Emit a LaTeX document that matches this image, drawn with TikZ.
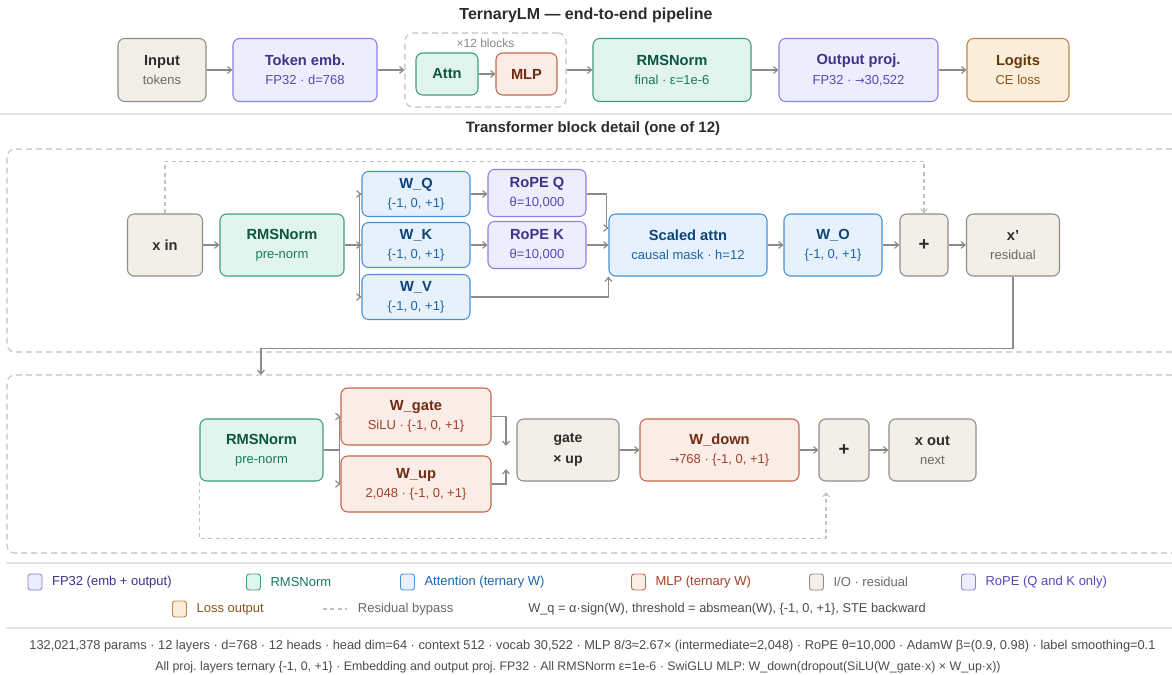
\documentclass[tikz,border=0pt]{standalone}
\usepackage{fontspec}
\setmainfont{Liberation Sans}
\newfontfamily\arrowfont{DejaVu Sans}
\usetikzlibrary{arrows.meta,positioning,calc}
\frenchspacing

\definecolor{ioF}{HTML}{F1EFE8}\definecolor{ioD}{HTML}{8F8D86}\definecolor{ioT}{HTML}{2C2C2A}\definecolor{ioS}{HTML}{6A6964}
\definecolor{fpF}{HTML}{EEEDFE}\definecolor{fpD}{HTML}{8A82E0}\definecolor{fpT}{HTML}{3C3489}\definecolor{fpS}{HTML}{5549B8}
\definecolor{nmF}{HTML}{E1F5EE}\definecolor{nmD}{HTML}{3F9D7E}\definecolor{nmT}{HTML}{0A5641}\definecolor{nmS}{HTML}{1A7A5E}
\definecolor{atF}{HTML}{E6F1FB}\definecolor{atD}{HTML}{4A90D9}\definecolor{atT}{HTML}{0C447C}\definecolor{atS}{HTML}{1E64AA}
\definecolor{mlF}{HTML}{FAECE7}\definecolor{mlD}{HTML}{C8664A}\definecolor{mlT}{HTML}{712B13}\definecolor{mlS}{HTML}{A3402A}
\definecolor{lsF}{HTML}{FAEEDA}\definecolor{lsD}{HTML}{BE8545}\definecolor{lsT}{HTML}{633806}\definecolor{lsS}{HTML}{8A5512}
\definecolor{wire}{HTML}{8C8B86}\definecolor{dashc}{HTML}{C2C1BB}\definecolor{rulec}{HTML}{E4E3DD}

\newcommand\subl[1]{{\fontsize{9.75}{14.5}\selectfont\mdseries\color{subc}#1}}
\newcommand\toarr{{\arrowfont\fontsize{8.5}{10}\selectfont →}}

\tikzset{
  box/.style={draw, rounded corners=5pt, line width=0.8pt, align=center, inner sep=0pt,
    font=\fontsize{11}{14.5}\selectfont\bfseries},
  sz/.style 2 args={minimum width=#1*0.75pt, minimum height=#2*0.75pt},
  iobox/.style={box, fill=ioF, draw=ioD, text=ioT, execute at begin node=\colorlet{subc}{ioS}},
  fpbox/.style={box, fill=fpF, draw=fpD, text=fpT, execute at begin node=\colorlet{subc}{fpS}},
  nmbox/.style={box, fill=nmF, draw=nmD, text=nmT, execute at begin node=\colorlet{subc}{nmS}},
  attbox/.style={box, fill=atF, draw=atD, text=atT, execute at begin node=\colorlet{subc}{atS}},
  mlpbox/.style={box, fill=mlF, draw=mlD, text=mlT, execute at begin node=\colorlet{subc}{mlS}},
  lossbox/.style={box, fill=lsF, draw=lsD, text=lsT, execute at begin node=\colorlet{subc}{lsS}},
  plussign/.style={font=\fontsize{14}{16}\selectfont\bfseries},
  arr/.style={-{Straight Barb[length=3pt,width=5pt]}, draw=wire, line width=0.9pt},
  res/.style={-{Straight Barb[length=3pt,width=5pt]}, draw=dashc, line width=0.8pt, dash pattern=on 3pt off 2.5pt},
  grp/.style={draw=dashc, line width=0.8pt, dash pattern=on 4.5pt off 3pt, rounded corners=6pt, inner sep=0pt},
  hdr/.style={font=\fontsize{12}{14}\selectfont\bfseries, text=ioT},
  swatch/.style={draw, rounded corners=2pt, line width=0.7pt, minimum width=10.5pt, minimum height=12pt, inner sep=0pt},
  lgtext/.style={font=\fontsize{9.75}{12}\selectfont, inner sep=0pt, anchor=west},
  foot/.style={font=\fontsize{9.6}{12}\selectfont, text=ioT!85}
}

\begin{document}
\begin{tikzpicture}[x=0.75pt, y=-0.75pt]
  \useasboundingbox (0,0) rectangle (1172,675);
  \fill[white] (0,0) rectangle (1172,675);

  % pipeline
  \node[hdr] (ttl) at (586,15) {TernaryLM — end-to-end pipeline};
  \node[iobox, sz={88}{63}] (inp) at (162,70) {Input\\\subl{tokens}};
  \node[fpbox, sz={144}{63}] (tok) at (305,70) {Token emb.\\\subl{FP32 · d=768}};
  \node[grp, sz={161}{74}] (blocks) at (485.5,70) {};
  \node[font=\fontsize{9}{10}\selectfont, text=ioS!80] (reps) at (485.5,43) {×12 blocks};
  \node[nmbox, sz={62}{42}] (attn) at (447,74) {Attn};
  \node[mlpbox, sz={61}{42}] (mlp) at (526.5,74) {MLP};
  \node[nmbox, sz={158}{63}] (rmsf) at (672,70) {RMSNorm\\\subl{final · ε=1e-6}};
  \node[fpbox, sz={159}{63}] (outp) at (858.5,70) {Output proj.\\\subl{FP32 · \toarr30,522}};
  \node[lossbox, sz={102}{63}] (logit) at (1018,70) {Logits\\\subl{CE loss}};

  \draw[arr] (inp) -- (tok);
  \draw[arr] (tok) -- (blocks);
  \draw[arr] (attn) -- (mlp);
  \draw[arr] (blocks) -- (rmsf);
  \draw[arr] (rmsf) -- (outp);
  \draw[arr] (outp) -- (logit);

  \draw[rulec, line width=0.8pt] (0,114) -- (1172,114);

  % attention half of the block
  \node[hdr, font=\fontsize{11.25}{14}\selectfont\bfseries] (ttl2) at (593,129) {Transformer block detail (one of 12)};
  \node[grp, sz={1173}{203}] (upper) at (593.5,250.5) {};
  \node[iobox, sz={75}{62}] (xin) at (165,245) {x in};
  \node[nmbox, sz={124}{62}] (rms1) at (282,245) {RMSNorm\\\subl{pre-norm}};
  \node[attbox, sz={108}{45}] (wq) at (416,194) {W\_Q\\\subl{\{-1, 0, +1\}}};
  \node[attbox, sz={108}{45}] (wk) at (416,245) {W\_K\\\subl{\{-1, 0, +1\}}};
  \node[attbox, sz={108}{45}] (wv) at (416,297) {W\_V\\\subl{\{-1, 0, +1\}}};
  \node[fpbox, sz={98}{47}] (ropeq) at (537,193) {RoPE Q\\\subl{θ=10,000}};
  \node[fpbox, sz={98}{47}] (ropek) at (537,245) {RoPE K\\\subl{θ=10,000}};
  \node[attbox, sz={158}{62}] (sattn) at (688,245) {Scaled attn\\\subl{causal mask · h=12}};
  \node[attbox, sz={98}{62}] (wo) at (833,245) {W\_O\\\subl{\{-1, 0, +1\}}};
  \node[iobox, plussign, sz={48}{62}] (add1) at (924,245) {+};
  \node[iobox, sz={93}{62}] (xres) at (1013,245) {x'\\\subl{residual}};

  \draw[arr] (xin) -- (rms1);
  \draw[arr] (rms1.east) -- ++(15,0) coordinate (fk1) |- (wq);
  \draw[arr] (fk1) -- (wk);
  \draw[arr] (fk1) |- (wv);
  \draw[arr] (wq) -- (ropeq.west |- wq);
  \draw[arr] (wk) -- (ropek);
  \draw[arr] (ropeq.east |- wq) -- ++(20,0) |- ($(sattn.west)+(0,-17)$);
  \draw[arr] (ropek) -- (sattn);
  \draw[arr] (wv) -| ($(sattn.south west)+(0,0)$);
  \draw[arr] (sattn) -- (wo);
  \draw[arr] (wo) -- (add1);
  \draw[arr] (add1) -- (xres);
  \draw[res] (xin.north) -- ++(0,-52) -| (add1.north);

  \coordinate (lowin) at (261,375);
  \draw[arr] (xres.south) -- ++(0,72) -| (lowin);

  % MLP half of the block
  \node[grp, sz={1173}{178}] (lower) at (593.5,464) {};
  \node[nmbox, sz={123}{62}] (rms2) at (261.5,450) {RMSNorm\\\subl{pre-norm}};
  \node[mlpbox, sz={150}{57}] (wgate) at (416,416.5) {W\_gate\\\subl{SiLU · \{-1, 0, +1\}}};
  \node[mlpbox, sz={150}{56}] (wup) at (416,484) {W\_up\\\subl{2,048 · \{-1, 0, +1\}}};
  \node[iobox, sz={102}{62}, font=\fontsize{10.5}{16}\selectfont\bfseries] (gxu) at (568,450) {gate\\× up};
  \node[mlpbox, sz={159}{62}] (wdown) at (719.5,450) {W\_down\\\subl{\toarr768 · \{-1, 0, +1\}}};
  \node[iobox, plussign, sz={50}{62}] (add2) at (844,450) {+};
  \node[iobox, sz={87}{62}] (xout) at (932.5,450) {x out\\\subl{next}};

  \coordinate (gin1) at (506,446);
  \coordinate (gin2) at (506,469);
  \coordinate (skip2) at (826,492);
  \draw[arr] (rms2.east) -- ++(16,0) coordinate (fk2) |- (wgate);
  \draw[arr] (fk2) |- (wup);
  \draw[arr] (wgate.east) -| (gin1);
  \draw[arr] (wup.east) -| (gin2);
  \draw[arr] (gxu) -- (wdown);
  \draw[arr] (wdown) -- (add2);
  \draw[arr] (add2) -- (xout);
  \draw[res] (rms2.south west) -- ++(0,57) -| (skip2);

  % legend
  \draw[rulec, line width=0.8pt] (6,563) -- (1172,563);
  \node[swatch, fill=fpF, draw=fpD] (lgfp) at (35,582) {};
  \node[lgtext, text=fpT, right=7pt of lgfp] {FP32 (emb + output)};
  \node[swatch, fill=nmF, draw=nmD] (lgnm) at (253.5,582) {};
  \node[lgtext, text=nmS, right=7pt of lgnm] {RMSNorm};
  \node[swatch, fill=atF, draw=atD] (lgat) at (407.5,582) {};
  \node[lgtext, text=atS, right=7pt of lgat] {Attention (ternary W)};
  \node[swatch, fill=mlF, draw=mlD] (lgml) at (638.5,582) {};
  \node[lgtext, text=mlS, right=7pt of lgml] {MLP (ternary W)};
  \node[swatch, fill=ioF, draw=ioD] (lgio) at (816.5,582) {};
  \node[lgtext, text=ioS, right=7pt of lgio] {I/O · residual};
  \node[swatch, fill=fpF, draw=fpD] (lgrp) at (968.5,582) {};
  \node[lgtext, text=fpS, right=7pt of lgrp] {RoPE (Q and K only)};
  \node[swatch, fill=lsF, draw=lsD] (lgls) at (179.5,609) {};
  \node[lgtext, text=lsS, right=7pt of lgls] {Loss output};
  \coordinate (lgd1) at (323,609);
  \coordinate (lgd2) at (347,609);
  \draw[draw=dashc, line width=0.8pt, dash pattern=on 3pt off 2.5pt] (lgd1) -- (lgd2);
  \node[lgtext, text=ioS, right=8pt of lgd2] {Residual bypass};
  \node[lgtext, text=ioT!85, font=\fontsize{9.6}{12}\selectfont] (quant) at (528,609) {W\_q = α·sign(W), threshold = absmean(W), \{-1, 0, +1\}, STE backward};

  % footer
  \draw[rulec, line width=0.8pt] (6,628) -- (1172,628);
  \node[foot] (ft1) at (592.5,646) {132,021,378 params · 12 layers · d=768 · 12 heads · head dim=64 · context 512 · vocab 30,522 · MLP 8/3≈2.67× (intermediate=2,048) · RoPE θ=10,000 · AdamW β=(0.9, 0.98) · label smoothing=0.1};
  \node[foot, font=\fontsize{9.3}{12}\selectfont] (ft2) at (578,667) {All proj. layers ternary \{-1, 0, +1\} · Embedding and output proj. FP32 · All RMSNorm ε=1e-6 · SwiGLU MLP: W\_down(dropout(SiLU(W\_gate·x) × W\_up·x))};
\end{tikzpicture}
\end{document}
